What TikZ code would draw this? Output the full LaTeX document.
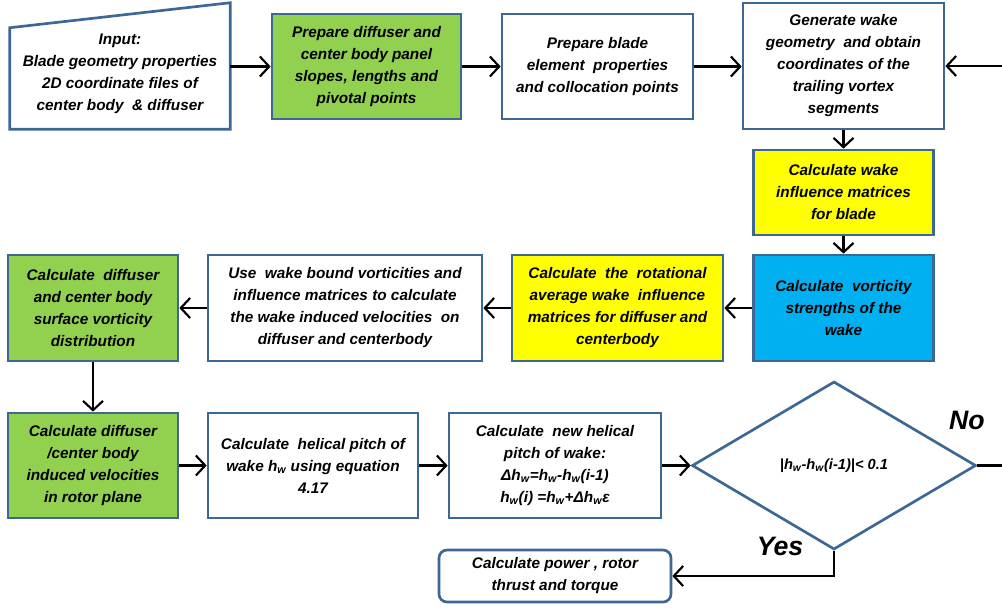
\documentclass[tikz,border=0pt]{standalone}
\usepackage{fontspec}
\setmainfont{Liberation Sans}
\usetikzlibrary{shapes.geometric,arrows.meta}
\definecolor{frameblue}{HTML}{3D6795}
\definecolor{boxgreen}{HTML}{92D050}
\definecolor{boxyellow}{HTML}{FFFF00}
\definecolor{boxcyan}{HTML}{00B0F0}

\begin{document}
\begin{tikzpicture}[x=0.75pt,y=-0.75pt,
    font=\fontsize{11.5}{16.5}\selectfont\bfseries\itshape,
    box/.style={draw=frameblue, line width=2pt, fill=white, align=center, inner sep=2pt},
    arr/.style={line width=1.6pt, -{Straight Barb[length=7pt,width=15pt]}},
    flow/.style={line width=1.6pt},
    answer/.style={font=\fontsize{20}{24}\selectfont\bfseries\itshape}]
  \useasboundingbox (0,0) rectangle (1002,608);

    % First row
  \node[minimum width=165pt, minimum height=94.5pt, inner sep=0pt] (input) at (120,66) {};
  \draw[draw=frameblue, line width=2pt] (input.south west) -- (input.south east)
    -- (input.north east) -- ([yshift=-18.75pt]input.north west) -- cycle;
  \node[align=center] (inputtxt) at ([yshift=-6pt]input.center)
    {Input:\\Blade geometry properties\\2D coordinate files of\\center body \ \& diffuser};
  \node[box, fill=boxgreen, minimum width=141.75pt, minimum height=78.75pt] (prep) at (366.5,66.5)
    {Prepare diffuser and\\center body panel\\slopes, lengths and\\pivotal points};
  \node[box, minimum width=143.25pt, minimum height=78.75pt] (blade) at (597.5,66.5)
    {Prepare blade\\element \ properties\\and collocation points};
  \node[box, minimum width=150.75pt, minimum height=94.5pt] (wakegeo) at (843.5,66)
    {Generate wake\\geometry \ and obtain\\coordinates of the\\trailing vortex\\segments};
  \node[box, fill=boxyellow, minimum width=135pt, minimum height=63.75pt] (wakeinf) at (843.5,192.5)
    {Calculate wake\\influence matrices\\for blade};

    % Second row
  \node[box, fill=boxcyan, minimum width=135pt, minimum height=79.5pt] (vort) at (843.5,308)
    {Calculate \ vorticity\\strengths of the\\wake};
  \node[box, fill=boxyellow, minimum width=158.25pt, minimum height=79.5pt] (rotavg) at (617.5,308)
    {Calculate \ the \ rotational\\average wake \ influence\\matrices for diffuser and\\centerbody};
  \node[box, minimum width=205.5pt, minimum height=79.5pt] (usewake) at (345,308)
    {Use \ wake bound vorticities and\\influence matrices to calculate\\the wake induced velocities \ on\\diffuser and centerbody};
  \node[box, fill=boxgreen, minimum width=127.5pt, minimum height=79.5pt] (surfvort) at (93,308)
    {Calculate \ diffuser\\and center body\\surface vorticity\\distribution};

    % Third row
  \node[box, fill=boxgreen, minimum width=127.5pt, minimum height=78.75pt] (induced) at (93,465.5)
    {Calculate diffuser\\/center body\\induced velocities\\in rotor plane};
  \node[box, minimum width=157.5pt, minimum height=78.75pt] (pitch) at (313,465.5)
    {Calculate \ helical pitch of\\wake h\textsubscript{w} using equation\\4.17};
  \node[box, minimum width=159pt, minimum height=78.75pt] (newpitch) at (555,465.5)
    {Calculate \ new helical\\pitch of wake:\\Δh\textsubscript{w}=h\textsubscript{w}-h\textsubscript{w}(i-1)\\h\textsubscript{w}(i) =h\textsubscript{w}+Δh\textsubscript{w}ε};
  \node[box, diamond, aspect=1.69, inner sep=0pt, minimum width=213pt, minimum height=126pt,
    font=\fontsize{11}{14}\selectfont\bfseries\itshape] (check) at (834,465.5)
    {|h\textsubscript{w}-h\textsubscript{w}(i-1)|< 0.1};
  \node[box, rounded corners=6pt, minimum width=174pt, minimum height=39pt] (power) at (555,576)
    {Calculate power , rotor\\thrust and torque};

    % Answers
  \node[answer] (no) at (967,420) {No};
  \node[answer] (yes) at (780,546) {Yes};

    % Loop ends at the right edge
  \coordinate (loopin) at (1002,66);
  \coordinate (loopout) at (1002,465.5);

    % Connectors
  \draw[arr] (input.east |- prep.west) -- (prep.west);
  \draw[arr] (prep) -- (blade);
  \draw[arr] (blade.east) -- (blade.east -| wakegeo.west);
  \draw[arr] (loopin) -- (wakegeo.east);
  \draw[arr] (wakegeo) -- (wakeinf);
  \draw[arr] (wakeinf) -- (vort);
  \draw[arr] (vort) -- (rotavg);
  \draw[arr] (rotavg) -- (usewake);
  \draw[arr] (usewake) -- (surfvort);
  \draw[arr] (surfvort) -- (induced);
  \draw[arr] (induced) -- (pitch);
  \draw[arr] (pitch) -- (newpitch);
  \draw[arr] (newpitch) -- (check);
  \draw[flow] (check.east) -- (loopout);
  \draw[arr] (check.south) |- (power.east);
\end{tikzpicture}
\end{document}
